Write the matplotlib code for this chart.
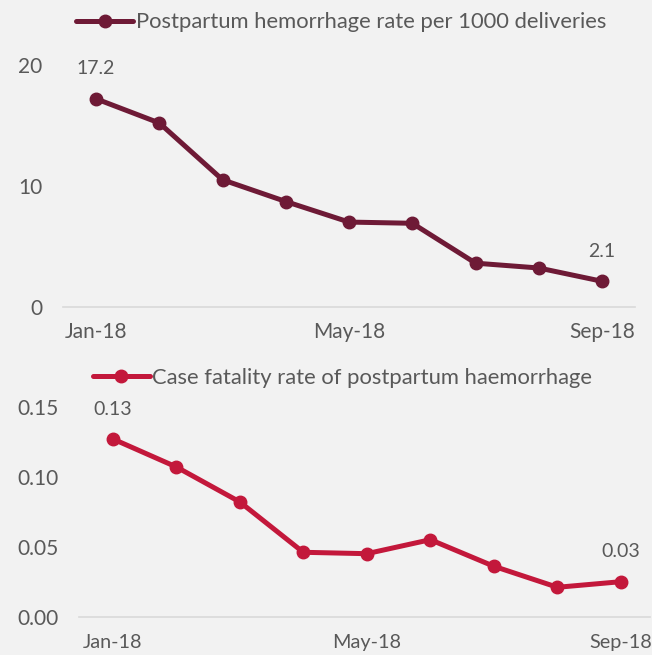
import matplotlib
matplotlib.use("Agg")
import matplotlib.pyplot as plt

plt.rcParams["font.family"] = ["Lato", "DejaVu Sans"]

# 数据
months = ["Jan-18", "Feb-18", "Mar-18", "Apr-18", "May-18", "Jun-18", "Jul-18", "Aug-18", "Sep-18"]
pph_rate = [17.2, 15.2, 10.5, 8.7, 7.0, 6.9, 3.6, 3.2, 2.1]
fatality_rate = [0.127, 0.107, 0.082, 0.046, 0.045, 0.055, 0.036, 0.021, 0.025]
pph_label = "Postpartum hemorrhage rate per 1000 deliveries"
fatality_label = "Case fatality rate of postpartum haemorrhage"
shown_months = ["Jan-18", "May-18", "Sep-18"]

BG = "#f2f2f2"
TEXT = "#595959"
GRID = "#d9d9d9"
MAROON = "#6e1a36"
CRIMSON = "#c3183b"


def draw_panel(fig, rect, values, label, color, ylim, yticks, yfmt, xlim, legend_xy, end_labels):
    ax = fig.add_axes(rect)
    ax.set_facecolor(BG)
    x = list(range(len(months)))
    ax.plot(x, values, color=color, lw=3.6, marker="o", markersize=9,
            solid_capstyle="round", label=label)
    ax.set_xlim(*xlim)
    ax.set_ylim(*ylim)
    ax.set_yticks(yticks)
    ax.set_yticklabels([yfmt.format(v) for v in yticks])
    ax.set_xticks([months.index(m) for m in shown_months])
    ax.set_xticklabels(shown_months)
    for s in ["top", "right", "left"]:
        ax.spines[s].set_visible(False)
    ax.spines["bottom"].set_color(GRID)
    ax.spines["bottom"].set_linewidth(1.2)
    ax.tick_params(axis="y", length=0, pad=14.5, labelsize=15, labelcolor=TEXT)
    ax.tick_params(axis="x", length=0, pad=11, labelsize=15, labelcolor=TEXT)

    # 首尾数据标签
    for i, txt in end_labels:
        ax.annotate(txt, (i, values[i]), xytext=(0, 21.5), textcoords="offset points",
                    ha="center", va="center", fontsize=14, color=TEXT)

    ax.legend(loc="center left", bbox_to_anchor=legend_xy, bbox_transform=fig.transFigure,
              frameon=False, handlelength=2.6, handletextpad=0.1, borderpad=0,
              borderaxespad=0, numpoints=1, fontsize=15.8, labelcolor=TEXT)
    return ax


fig = plt.figure(figsize=(6.52, 6.55), dpi=100)
fig.patch.set_facecolor(BG)

draw_panel(fig, [0.0959, 0.5318, 0.878, 0.369], pph_rate, pph_label, MAROON,
           (0, 20), [0, 10, 20], "{:.0f}", (-0.53, 8.52), (0.117, 0.966),
           [(0, "17.2"), (8, "2.1")])
ax2 = draw_panel(fig, [0.1212, 0.0585, 0.876, 0.3206], fatality_rate, fatality_label, CRIMSON,
                 (0, 0.15), [0.0, 0.05, 0.10, 0.15], "{:.2f}", (-0.53, 8.46), (0.142, 0.423),
                 [(0, "0.13"), (8, "0.03")])
# 最右侧标签贴边，稍微缩小一点避免被裁掉
ax2.tick_params(axis="x", pad=12.5, labelsize=14.3)

fig.savefig("out.png", dpi=100, facecolor=BG)
